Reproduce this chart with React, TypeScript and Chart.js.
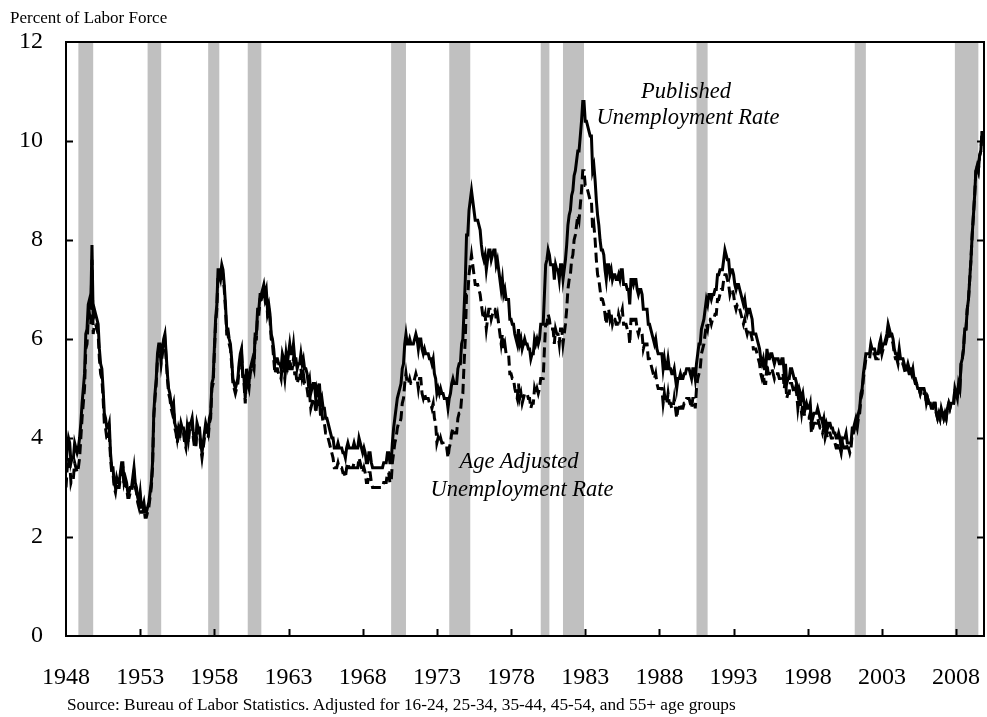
import React, { useEffect, useRef } from "react";
import { Chart, registerables } from "chart.js";

Chart.register(...registerables);

// ---------- data ----------
const START_YEAR = 1948;
const X_MIN = 1948;
const X_MAX = 2009.88;
const Y_MIN = 0;
const Y_MAX = 12;
const Y_STEP = 2;
const X_TICK_YEARS = [1948, 1953, 1958, 1963, 1968, 1973, 1978, 1983, 1988, 1993, 1998, 2003, 2008];

const Y_AXIS_TITLE = "Percent of Labor Force";
const SOURCE_NOTE =
  "Source: Bureau of Labor Statistics. Adjusted for 16-24, 25-34, 35-44, 45-54, and 55+ age groups";
const LABEL_PUBLISHED = ["Published", "Unemployment Rate"];
const LABEL_ADJUSTED = ["Age Adjusted", "Unemployment Rate"];

// monthly, Jan 1948 .. Nov 2009
const published: number[] = [
  3.4, 3.8, 4.0, 3.9, 3.5, 3.6, 3.6, 3.9, 3.8, 3.7, 3.8, 4.0, // 1948
  4.3, 4.7, 5.0, 5.3, 6.1, 6.2, 6.7, 6.8, 6.6, 7.9, 6.4, 6.6, // 1949
  6.5, 6.4, 6.3, 5.8, 5.5, 5.4, 5.0, 4.5, 4.4, 4.2, 4.2, 4.3, // 1950
  3.7, 3.4, 3.4, 3.1, 3.0, 3.2, 3.1, 3.1, 3.3, 3.5, 3.5, 3.1, // 1951
  3.2, 3.1, 2.9, 2.9, 3.0, 3.0, 3.2, 3.4, 3.1, 3.0, 2.8, 2.7, // 1952
  2.9, 2.6, 2.6, 2.7, 2.5, 2.5, 2.6, 2.7, 2.9, 3.1, 3.5, 4.5, // 1953
  4.9, 5.2, 5.7, 5.9, 5.9, 5.6, 5.8, 6.0, 6.1, 5.7, 5.3, 5.0, // 1954
  4.9, 4.7, 4.6, 4.7, 4.3, 4.2, 4.0, 4.2, 4.1, 4.3, 4.2, 4.2, // 1955
  4.0, 3.9, 4.2, 4.0, 4.3, 4.3, 4.4, 4.1, 3.9, 3.9, 4.3, 4.2, // 1956
  4.2, 3.9, 3.7, 3.9, 4.1, 4.3, 4.2, 4.1, 4.4, 4.5, 5.1, 5.2, // 1957
  5.8, 6.4, 6.7, 7.4, 7.4, 7.3, 7.5, 7.4, 7.1, 6.7, 6.2, 6.2, // 1958
  6.0, 5.9, 5.6, 5.2, 5.1, 5.0, 5.1, 5.2, 5.5, 5.7, 5.8, 5.3, // 1959
  5.2, 4.8, 5.4, 5.2, 5.1, 5.4, 5.5, 5.6, 5.5, 6.1, 6.1, 6.6, // 1960
  6.6, 6.9, 6.9, 7.0, 7.1, 6.9, 7.0, 6.6, 6.7, 6.5, 6.1, 6.0, // 1961
  5.8, 5.5, 5.6, 5.6, 5.5, 5.5, 5.4, 5.7, 5.6, 5.4, 5.7, 5.5, // 1962
  5.7, 5.9, 5.7, 5.7, 5.9, 5.6, 5.6, 5.4, 5.5, 5.5, 5.7, 5.5, // 1963
  5.6, 5.4, 5.4, 5.3, 5.1, 5.2, 4.9, 5.0, 5.1, 5.1, 4.8, 5.0, // 1964
  4.9, 5.1, 4.7, 4.8, 4.6, 4.6, 4.4, 4.4, 4.3, 4.2, 4.1, 4.0, // 1965
  4.0, 3.8, 3.8, 3.8, 3.9, 3.8, 3.8, 3.8, 3.7, 3.7, 3.6, 3.8, // 1966
  3.9, 3.8, 3.8, 3.8, 3.8, 3.9, 3.8, 3.8, 3.8, 4.0, 3.9, 3.8, // 1967
  3.7, 3.8, 3.7, 3.5, 3.5, 3.7, 3.7, 3.5, 3.4, 3.4, 3.4, 3.4, // 1968
  3.4, 3.4, 3.4, 3.4, 3.4, 3.5, 3.5, 3.5, 3.7, 3.7, 3.5, 3.5, // 1969
  3.9, 4.2, 4.4, 4.6, 4.8, 4.9, 5.0, 5.1, 5.4, 5.5, 5.9, 6.1, // 1970
  5.9, 5.9, 6.0, 5.9, 5.9, 5.9, 6.0, 6.1, 6.0, 5.8, 6.0, 6.0, // 1971
  5.8, 5.7, 5.8, 5.7, 5.7, 5.7, 5.6, 5.6, 5.5, 5.6, 5.3, 5.2, // 1972
  4.9, 5.0, 4.9, 5.0, 4.9, 4.9, 4.8, 4.8, 4.8, 4.6, 4.8, 4.9, // 1973
  5.1, 5.2, 5.1, 5.1, 5.1, 5.4, 5.5, 5.5, 5.9, 6.0, 6.6, 7.2, // 1974
  8.1, 8.1, 8.6, 8.8, 9.0, 8.8, 8.6, 8.4, 8.4, 8.4, 8.3, 8.2, // 1975
  7.9, 7.7, 7.6, 7.7, 7.4, 7.6, 7.8, 7.8, 7.6, 7.7, 7.8, 7.8, // 1976
  7.5, 7.6, 7.4, 7.2, 7.0, 7.2, 6.9, 7.0, 6.8, 6.8, 6.8, 6.4, // 1977
  6.4, 6.3, 6.3, 6.1, 6.0, 5.9, 6.2, 5.9, 6.0, 5.8, 5.9, 6.0, // 1978
  5.9, 5.9, 5.8, 5.8, 5.6, 5.7, 5.7, 6.0, 5.9, 6.0, 5.9, 6.0, // 1979
  6.3, 6.3, 6.3, 6.9, 7.5, 7.6, 7.8, 7.7, 7.5, 7.5, 7.5, 7.2, // 1980
  7.5, 7.4, 7.4, 7.2, 7.5, 7.5, 7.2, 7.4, 7.6, 7.9, 8.3, 8.5, // 1981
  8.6, 8.9, 9.0, 9.3, 9.4, 9.6, 9.8, 9.8, 10.1, 10.4, 10.8, 10.8, // 1982
  10.4, 10.4, 10.3, 10.2, 10.1, 10.1, 9.4, 9.5, 9.2, 8.8, 8.5, 8.3, // 1983
  8.0, 7.8, 7.8, 7.7, 7.4, 7.2, 7.5, 7.5, 7.3, 7.4, 7.2, 7.3, // 1984
  7.3, 7.2, 7.2, 7.3, 7.2, 7.4, 7.4, 7.1, 7.1, 7.1, 7.0, 7.0, // 1985
  6.7, 7.2, 7.2, 7.1, 7.2, 7.2, 7.0, 6.9, 7.0, 7.0, 6.9, 6.6, // 1986
  6.6, 6.6, 6.6, 6.3, 6.3, 6.2, 6.1, 6.0, 5.9, 6.0, 5.8, 5.7, // 1987
  5.7, 5.7, 5.7, 5.4, 5.6, 5.4, 5.4, 5.6, 5.4, 5.4, 5.3, 5.3, // 1988
  5.4, 5.2, 5.0, 5.2, 5.2, 5.3, 5.2, 5.2, 5.3, 5.3, 5.4, 5.4, // 1989
  5.4, 5.3, 5.2, 5.4, 5.4, 5.2, 5.5, 5.7, 5.9, 5.9, 6.2, 6.3, // 1990
  6.4, 6.6, 6.8, 6.7, 6.9, 6.9, 6.8, 6.9, 6.9, 7.0, 7.0, 7.3, // 1991
  7.3, 7.4, 7.4, 7.4, 7.6, 7.8, 7.7, 7.6, 7.6, 7.3, 7.4, 7.4, // 1992
  7.3, 7.1, 7.0, 7.1, 7.1, 7.0, 6.9, 6.8, 6.7, 6.8, 6.6, 6.5, // 1993
  6.6, 6.6, 6.5, 6.4, 6.1, 6.1, 6.1, 6.0, 5.9, 5.8, 5.6, 5.5, // 1994
  5.6, 5.4, 5.4, 5.8, 5.6, 5.6, 5.7, 5.7, 5.6, 5.5, 5.6, 5.6, // 1995
  5.6, 5.5, 5.5, 5.6, 5.6, 5.3, 5.5, 5.1, 5.2, 5.2, 5.4, 5.4, // 1996
  5.3, 5.2, 5.2, 5.1, 4.9, 5.0, 4.9, 4.8, 4.9, 4.7, 4.6, 4.7, // 1997
  4.6, 4.6, 4.7, 4.3, 4.4, 4.5, 4.5, 4.5, 4.6, 4.5, 4.4, 4.4, // 1998
  4.3, 4.4, 4.2, 4.3, 4.2, 4.3, 4.3, 4.2, 4.2, 4.1, 4.1, 4.0, // 1999
  4.0, 4.1, 4.0, 3.8, 4.0, 4.0, 4.0, 4.1, 3.9, 3.9, 3.9, 3.9, // 2000
  4.2, 4.2, 4.3, 4.4, 4.3, 4.5, 4.6, 4.9, 5.0, 5.3, 5.5, 5.7, // 2001
  5.7, 5.7, 5.7, 5.9, 5.8, 5.8, 5.8, 5.7, 5.7, 5.7, 5.9, 6.0, // 2002
  5.8, 5.9, 5.9, 6.0, 6.1, 6.3, 6.2, 6.1, 6.1, 6.0, 5.8, 5.7, // 2003
  5.7, 5.6, 5.8, 5.6, 5.6, 5.6, 5.5, 5.4, 5.4, 5.5, 5.4, 5.4, // 2004
  5.3, 5.4, 5.2, 5.2, 5.1, 5.0, 5.0, 4.9, 5.0, 5.0, 5.0, 4.9, // 2005
  4.7, 4.8, 4.7, 4.7, 4.6, 4.6, 4.7, 4.7, 4.5, 4.4, 4.5, 4.4, // 2006
  4.6, 4.5, 4.4, 4.5, 4.4, 4.6, 4.7, 4.6, 4.7, 4.7, 4.7, 5.0, // 2007
  4.9, 4.8, 5.1, 5.0, 5.5, 5.6, 5.8, 6.2, 6.2, 6.6, 6.8, 7.2, // 2008
  7.6, 8.1, 8.5, 8.9, 9.4, 9.5, 9.4, 9.7, 9.8, 10.2, 10.0, // 2009
];

const ageAdjusted: number[] = [
  3.0, 3.4, 3.6, 3.5, 3.1, 3.2, 3.2, 3.5, 3.4, 3.3, 3.4, 3.6, // 1948
  4.0, 4.4, 4.7, 5.0, 5.8, 5.9, 6.4, 6.5, 6.3, 7.6, 6.1, 6.3, // 1949
  6.3, 6.2, 6.1, 5.6, 5.3, 5.2, 4.8, 4.3, 4.2, 4.0, 4.0, 4.1, // 1950
  3.6, 3.3, 3.3, 3.0, 2.9, 3.1, 3.0, 3.0, 3.2, 3.4, 3.4, 3.0, // 1951
  3.1, 3.0, 2.8, 2.8, 2.9, 2.9, 3.1, 3.3, 3.0, 2.9, 2.7, 2.6, // 1952
  2.8, 2.5, 2.5, 2.6, 2.4, 2.4, 2.5, 2.6, 2.8, 3.0, 3.4, 4.4, // 1953
  4.8, 5.1, 5.6, 5.8, 5.8, 5.5, 5.7, 5.9, 6.0, 5.6, 5.2, 4.9, // 1954
  4.8, 4.6, 4.5, 4.6, 4.2, 4.1, 3.9, 4.1, 4.0, 4.2, 4.1, 4.1, // 1955
  3.9, 3.8, 4.1, 3.9, 4.2, 4.2, 4.3, 4.0, 3.8, 3.8, 4.2, 4.1, // 1956
  4.1, 3.8, 3.6, 3.8, 4.0, 4.2, 4.1, 4.0, 4.3, 4.4, 5.0, 5.1, // 1957
  5.7, 6.3, 6.6, 7.3, 7.3, 7.2, 7.4, 7.3, 7.0, 6.6, 6.1, 6.1, // 1958
  5.9, 5.8, 5.5, 5.1, 5.0, 4.9, 5.0, 5.1, 5.4, 5.6, 5.7, 5.2, // 1959
  5.1, 4.7, 5.3, 5.1, 5.0, 5.3, 5.4, 5.5, 5.4, 6.0, 6.0, 6.5, // 1960
  6.5, 6.8, 6.8, 6.9, 7.0, 6.8, 6.9, 6.5, 6.6, 6.4, 6.0, 5.9, // 1961
  5.6, 5.3, 5.4, 5.4, 5.3, 5.3, 5.2, 5.5, 5.4, 5.2, 5.5, 5.3, // 1962
  5.4, 5.6, 5.4, 5.4, 5.6, 5.3, 5.3, 5.1, 5.2, 5.2, 5.4, 5.2, // 1963
  5.3, 5.1, 5.1, 5.0, 4.8, 4.9, 4.6, 4.7, 4.8, 4.8, 4.5, 4.7, // 1964
  4.6, 4.8, 4.4, 4.5, 4.3, 4.3, 4.1, 4.1, 4.0, 3.9, 3.8, 3.7, // 1965
  3.6, 3.4, 3.4, 3.4, 3.5, 3.4, 3.4, 3.4, 3.3, 3.3, 3.2, 3.4, // 1966
  3.5, 3.4, 3.4, 3.4, 3.4, 3.5, 3.4, 3.4, 3.4, 3.6, 3.5, 3.4, // 1967
  3.3, 3.4, 3.3, 3.1, 3.1, 3.3, 3.3, 3.1, 3.0, 3.0, 3.0, 3.0, // 1968
  3.0, 3.0, 3.0, 3.0, 3.0, 3.1, 3.1, 3.1, 3.3, 3.3, 3.1, 3.1, // 1969
  3.5, 3.7, 3.9, 4.0, 4.2, 4.3, 4.3, 4.4, 4.7, 4.8, 5.1, 5.3, // 1970
  5.1, 5.1, 5.2, 5.1, 5.1, 5.1, 5.2, 5.3, 5.2, 5.0, 5.2, 5.2, // 1971
  4.9, 4.8, 4.9, 4.8, 4.8, 4.8, 4.7, 4.7, 4.6, 4.7, 4.4, 4.3, // 1972
  3.9, 4.0, 3.9, 4.0, 3.9, 3.9, 3.8, 3.8, 3.8, 3.6, 3.8, 3.9, // 1973
  4.1, 4.2, 4.1, 4.1, 4.1, 4.4, 4.5, 4.5, 4.8, 4.9, 5.5, 6.0, // 1974
  6.9, 6.9, 7.3, 7.5, 7.7, 7.5, 7.3, 7.1, 7.1, 7.1, 7.0, 6.9, // 1975
  6.7, 6.5, 6.4, 6.5, 6.2, 6.4, 6.6, 6.6, 6.4, 6.5, 6.6, 6.6, // 1976
  6.4, 6.5, 6.3, 6.1, 5.9, 6.1, 5.8, 5.9, 5.7, 5.7, 5.7, 5.3, // 1977
  5.3, 5.2, 5.2, 5.0, 4.9, 4.8, 5.1, 4.8, 4.9, 4.7, 4.8, 4.9, // 1978
  4.9, 4.9, 4.8, 4.8, 4.6, 4.7, 4.7, 5.0, 4.9, 5.0, 4.9, 5.0, // 1979
  5.2, 5.2, 5.2, 5.8, 6.3, 6.3, 6.5, 6.4, 6.2, 6.2, 6.2, 5.9, // 1980
  6.2, 6.1, 6.1, 5.9, 6.2, 6.2, 5.9, 6.1, 6.3, 6.6, 7.0, 7.2, // 1981
  7.3, 7.6, 7.7, 8.0, 8.1, 8.3, 8.5, 8.4, 8.7, 9.0, 9.4, 9.4, // 1982
  9.1, 9.1, 9.0, 8.9, 8.8, 8.8, 8.2, 8.3, 8.0, 7.6, 7.3, 7.2, // 1983
  7.0, 6.8, 6.8, 6.7, 6.5, 6.3, 6.6, 6.6, 6.4, 6.5, 6.3, 6.4, // 1984
  6.4, 6.3, 6.3, 6.5, 6.4, 6.5, 6.6, 6.3, 6.3, 6.3, 6.2, 6.2, // 1985
  5.9, 6.4, 6.4, 6.3, 6.4, 6.4, 6.2, 6.1, 6.2, 6.2, 6.1, 5.8, // 1986
  5.9, 5.9, 5.9, 5.6, 5.6, 5.5, 5.4, 5.3, 5.2, 5.3, 5.1, 5.0, // 1987
  5.0, 5.0, 5.0, 4.7, 4.9, 4.7, 4.7, 4.9, 4.7, 4.7, 4.6, 4.6, // 1988
  4.8, 4.6, 4.4, 4.6, 4.6, 4.7, 4.6, 4.6, 4.7, 4.7, 4.8, 4.8, // 1989
  4.8, 4.7, 4.6, 4.8, 4.8, 4.6, 5.0, 5.2, 5.3, 5.4, 5.7, 5.8, // 1990
  5.9, 6.1, 6.3, 6.2, 6.4, 6.4, 6.3, 6.4, 6.4, 6.5, 6.5, 6.8, // 1991
  6.8, 6.9, 7.0, 7.0, 7.2, 7.3, 7.3, 7.2, 7.1, 6.9, 7.0, 7.0, // 1992
  6.9, 6.7, 6.6, 6.7, 6.7, 6.6, 6.5, 6.4, 6.3, 6.4, 6.2, 6.1, // 1993
  6.2, 6.2, 6.1, 6.0, 5.8, 5.8, 5.8, 5.7, 5.6, 5.5, 5.3, 5.2, // 1994
  5.3, 5.1, 5.1, 5.5, 5.3, 5.3, 5.4, 5.4, 5.3, 5.2, 5.3, 5.3, // 1995
  5.3, 5.2, 5.2, 5.3, 5.3, 5.0, 5.2, 4.8, 4.9, 4.9, 5.1, 5.1, // 1996
  5.0, 4.9, 5.0, 4.9, 4.6, 4.8, 4.7, 4.5, 4.7, 4.5, 4.4, 4.4, // 1997
  4.4, 4.4, 4.5, 4.1, 4.2, 4.3, 4.3, 4.3, 4.4, 4.3, 4.2, 4.2, // 1998
  4.1, 4.2, 4.0, 4.1, 4.0, 4.1, 4.1, 4.0, 4.0, 3.9, 3.9, 3.8, // 1999
  3.8, 3.9, 3.8, 3.7, 3.9, 3.8, 3.8, 3.9, 3.8, 3.8, 3.7, 3.8, // 2000
  4.1, 4.1, 4.2, 4.3, 4.2, 4.4, 4.5, 4.8, 4.9, 5.2, 5.4, 5.6, // 2001
  5.6, 5.6, 5.6, 5.8, 5.7, 5.7, 5.7, 5.6, 5.6, 5.6, 5.8, 5.9, // 2002
  5.7, 5.8, 5.8, 5.9, 6.0, 6.2, 6.1, 6.0, 6.0, 5.9, 5.7, 5.6, // 2003
  5.6, 5.5, 5.7, 5.5, 5.5, 5.5, 5.4, 5.3, 5.3, 5.4, 5.3, 5.3, // 2004
  5.3, 5.3, 5.2, 5.1, 5.1, 5.0, 5.0, 4.9, 5.0, 5.0, 4.9, 4.9, // 2005
  4.7, 4.8, 4.7, 4.7, 4.6, 4.6, 4.7, 4.7, 4.5, 4.4, 4.5, 4.4, // 2006
  4.6, 4.5, 4.4, 4.5, 4.4, 4.6, 4.7, 4.6, 4.7, 4.7, 4.7, 5.0, // 2007
  4.9, 4.8, 5.1, 5.0, 5.5, 5.6, 5.8, 6.2, 6.2, 6.6, 6.8, 7.2, // 2008
  7.6, 8.1, 8.5, 8.9, 9.4, 9.5, 9.4, 9.7, 9.8, 10.2, 10.0, // 2009
];

// NBER recessions: [first month, last month]
const recessions: [string, string][] = [
  ["1948-11", "1949-10"],
  ["1953-07", "1954-05"],
  ["1957-08", "1958-04"],
  ["1960-04", "1961-02"],
  ["1969-12", "1970-11"],
  ["1973-11", "1975-03"],
  ["1980-01", "1980-07"],
  ["1981-07", "1982-11"],
  ["1990-07", "1991-03"],
  ["2001-03", "2001-11"],
  ["2007-12", "2009-06"],
];

// ---------- helpers ----------
const FONT = '"Liberation Serif", "Times New Roman", Times, serif';
const W = 987;
const H = 717;

const monthStart = (s: string) => {
  const [y, m] = s.split("-").map(Number);
  return y + (m - 1) / 12;
};
const monthEnd = (s: string) => {
  const [y, m] = s.split("-").map(Number);
  return y + m / 12;
};
const toPoints = (arr: number[]) =>
  arr.map((v, i) => ({ x: START_YEAR + i / 12, y: v }));

const framePlugin = {
  id: "frameAndBars",
  beforeDatasetsDraw(chart: any) {
    const { ctx, chartArea: a, scales } = chart;
    const xs = scales.x;
    ctx.save();
    ctx.beginPath();
    ctx.rect(a.left, a.top, a.right - a.left, a.bottom - a.top);
    ctx.clip();
    ctx.fillStyle = "#C0C0C0";
    for (const [s, e] of recessions) {
      const x0 = xs.getPixelForValue(monthStart(s));
      const x1 = xs.getPixelForValue(monthEnd(e));
      ctx.fillRect(x0, a.top, x1 - x0, a.bottom - a.top);
    }
    ctx.restore();
  },
  afterDatasetsDraw(chart: any) {
    const { ctx, chartArea: a, scales } = chart;
    const xs = scales.x;
    const ys = scales.y;
    ctx.save();
    ctx.strokeStyle = "#000";
    ctx.lineWidth = 2;
    ctx.strokeRect(a.left, a.top, a.right - a.left, a.bottom - a.top);
    const tl = 7;
    ctx.beginPath();
    for (let v = Y_MIN + Y_STEP; v < Y_MAX; v += Y_STEP) {
      const y = Math.round(ys.getPixelForValue(v)) + 0.5;
      ctx.moveTo(a.left, y);
      ctx.lineTo(a.left + tl, y);
      ctx.moveTo(a.right, y);
      ctx.lineTo(a.right - tl, y);
    }
    for (const yr of X_TICK_YEARS) {
      if (yr <= X_MIN) continue;
      const x = Math.round(xs.getPixelForValue(yr)) + 0.5;
      ctx.moveTo(x, a.bottom);
      ctx.lineTo(x, a.bottom - tl);
    }
    ctx.stroke();
    ctx.restore();
  },
};

export default function App() {
  const ref = useRef<HTMLCanvasElement | null>(null);

  useEffect(() => {
    if (!ref.current) return;
    const chart = new Chart(ref.current, {
      type: "line",
      data: {
        datasets: [
          {
            label: "Published Unemployment Rate",
            data: toPoints(published),
            borderColor: "#000",
            borderWidth: 3,
            pointRadius: 0,
            tension: 0,
            order: 1,
          },
          {
            label: "Age Adjusted Unemployment Rate",
            data: toPoints(ageAdjusted),
            borderColor: "#000",
            borderWidth: 3,
            borderDash: [10, 5],
            pointRadius: 0,
            tension: 0,
            order: 2,
          },
        ],
      },
      options: {
        animation: false,
        responsive: false,
        maintainAspectRatio: false,
        devicePixelRatio: 1,
        layout: { padding: { top: 42, right: 3, left: 0, bottom: 0 } },
        plugins: {
          legend: { display: false },
          tooltip: { enabled: false },
          title: { display: false },
        },
        scales: {
          x: {
            type: "linear",
            min: X_MIN,
            max: X_MAX,
            grid: { display: false },
            border: { display: false },
            afterBuildTicks: (s: any) => {
              s.ticks = X_TICK_YEARS.map((v) => ({ value: v }));
            },
            afterFit: (s: any) => {
              s.height = H - 636;
              s.paddingLeft = 0;
              s.paddingRight = 0;
            },
            ticks: {
              autoSkip: false,
              maxRotation: 0,
              padding: 19,
              color: "#000",
              font: { family: FONT, size: 24 },
              callback: (v: any) => String(v),
            },
          },
          y: {
            min: Y_MIN,
            max: Y_MAX,
            grid: { display: false },
            border: { display: false },
            afterFit: (s: any) => {
              s.width = 66;
              s.paddingTop = 0;
              s.paddingBottom = 0;
            },
            ticks: {
              stepSize: Y_STEP,
              padding: 15,
              color: "#000",
              font: { family: FONT, size: 24 },
            },
          },
        },
      },
      plugins: [framePlugin],
    });
    return () => chart.destroy();
  }, []);

  const base: React.CSSProperties = {
    position: "absolute",
    fontFamily: FONT,
    color: "#000",
    lineHeight: 1,
    whiteSpace: "nowrap",
  };
  const anno: React.CSSProperties = {
    ...base,
    fontStyle: "italic",
    fontSize: 22.5,
    width: 300,
    textAlign: "center",
  };

  return (
    <div style={{ position: "fixed", left: 0, top: 0, width: W, height: H, background: "#fff" }}>
      <canvas ref={ref} width={W} height={H} style={{ position: "absolute", left: 0, top: 0, width: W, height: H }} />
      <div style={{ ...base, left: 10, top: 9, fontSize: 17 }}>{Y_AXIS_TITLE}</div>
      <div style={{ ...anno, left: 686 - 150, top: 80 }}>{LABEL_PUBLISHED[0]}</div>
      <div style={{ ...anno, left: 688 - 150, top: 106 }}>{LABEL_PUBLISHED[1]}</div>
      <div style={{ ...anno, left: 519 - 150, top: 450 }}>{LABEL_ADJUSTED[0]}</div>
      <div style={{ ...anno, left: 522 - 150, top: 478 }}>{LABEL_ADJUSTED[1]}</div>
      <div style={{ ...base, left: 67, top: 696, fontSize: 17.3 }}>{SOURCE_NOTE}</div>
    </div>
  );
}
